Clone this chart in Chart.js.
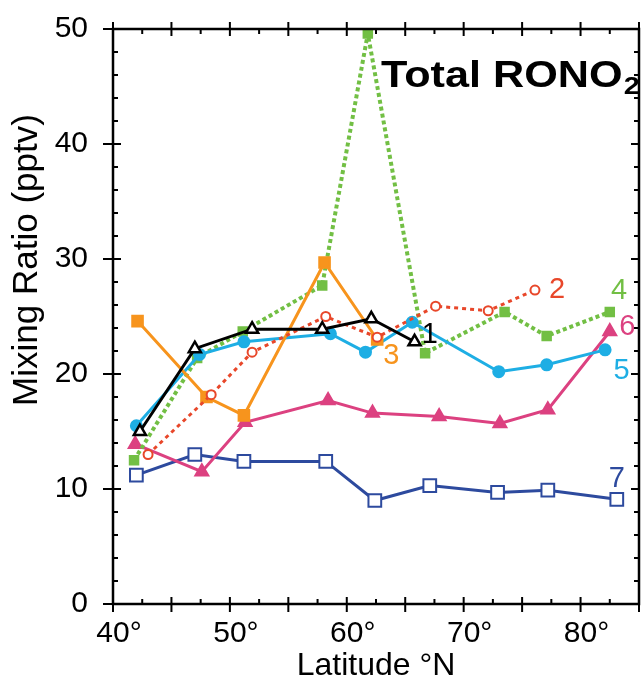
<!DOCTYPE html>
<html lang="en">
<head>
<meta charset="UTF-8">
<title>Total RONO2</title>
<script src="https://cdn.jsdelivr.net/npm/chart.js"></script>
<style>
  html, body { margin: 0; padding: 0; background: #fff; }
  canvas { display: block; }
</style>
</head>
<body>
<canvas id="chart" width="641" height="685"></canvas>
<script>
// latitude (deg N) and mixing ratio (pptv) per flight
const lat1 = [42.3, 47.0, 51.9, 57.9, 62.1, 65.8];
const val1 = [15.0, 22.2, 23.9, 23.9, 24.8, 22.8];
const lat2 = [43.0, 48.4, 51.9, 58.2, 62.6, 67.6, 72.1, 76.1];
const val2 = [13.0, 18.2, 21.9, 25.0, 23.2, 25.9, 25.5, 27.3];
const lat3 = [42.1, 48.0, 51.2, 58.1, 62.6];
const val3 = [24.6, 18.0, 16.4, 29.7, 23.0];
const lat4 = [41.8, 47.2, 51.1, 57.9, 61.8, 66.7, 73.5, 77.1, 82.5];
const val4 = [12.5, 21.4, 23.7, 27.7, 49.6, 21.8, 25.4, 23.3, 25.4];
const lat5 = [42.0, 47.4, 51.2, 58.6, 61.6, 65.6, 73.0, 77.1, 82.1];
const val5 = [15.5, 21.7, 22.8, 23.5, 21.9, 24.5, 20.2, 20.8, 22.1];
const lat6 = [41.9, 47.6, 51.3, 58.4, 62.2, 67.9, 73.1, 77.2, 82.5];
const val6 = [13.9, 11.5, 15.8, 17.7, 16.6, 16.3, 15.7, 16.9, 23.7];
const lat7 = [42.0, 47.0, 51.2, 58.2, 62.4, 67.1, 72.9, 77.2, 83.1];
const val7 = [11.2, 13.0, 12.4, 12.4, 9.0, 10.3, 9.7, 9.9, 9.1];

// flight number labels next to each line (data coords)
const flightNames = ['1', '2', '3', '4', '5', '6', '7'];
const flightLabelX = [67.1, 78.0, 63.8, 83.3, 83.5, 84.0, 83.1];
const flightLabelY = [23.4, 27.3, 21.6, 27.2, 20.3, 24.1, 10.9];

const xTicks = [40, 50, 60, 70, 80];

const FONT = '"Liberation Sans", Arial, sans-serif';
const colors = ['#000000', '#e8472a', '#f7941d', '#72bf44', '#1eaee4', '#dc4180', '#2d4a9e'];

function pts(xs, ys) {
  return xs.map((x, i) => ({ x: x, y: ys[i] }));
}

const frame = {
  id: 'frame',
  afterDraw(chart) {
    const ctx = chart.ctx, a = chart.chartArea;
    const xs = chart.scales.x, ys = chart.scales.y;
    ctx.save();
    ctx.strokeStyle = '#000';
    ctx.lineWidth = 2.5;
    ctx.strokeRect(a.left, a.top, a.right - a.left, a.bottom - a.top);

    // tick marks on all four sides
    ctx.lineWidth = 2;
    ctx.beginPath();
    for (let v = 40; v <= 85; v += 2.5) {
      const px = xs.getPixelForValue(v);
      if (v % 5 === 0) {
        ctx.moveTo(px, a.bottom - 7); ctx.lineTo(px, a.bottom + 8);
        ctx.moveTo(px, a.top - 7); ctx.lineTo(px, a.top + 7);
      } else {
        ctx.moveTo(px, a.bottom - 5); ctx.lineTo(px, a.bottom);
        ctx.moveTo(px, a.top); ctx.lineTo(px, a.top + 5);
      }
    }
    for (let v = 0; v <= 50; v += 2) {
      const py = ys.getPixelForValue(v);
      if (v % 10 === 0) {
        ctx.moveTo(a.left - 10, py); ctx.lineTo(a.left + 8, py);
        ctx.moveTo(a.right - 8, py); ctx.lineTo(a.right, py);
      } else {
        ctx.moveTo(a.left, py); ctx.lineTo(a.left + 5, py);
        ctx.moveTo(a.right - 5, py); ctx.lineTo(a.right, py);
      }
    }
    ctx.stroke();

    // y axis title
    ctx.fillStyle = '#000';
    ctx.font = '35px ' + FONT;
    ctx.textAlign = 'center';
    ctx.textBaseline = 'middle';
    ctx.translate(27, 260);
    ctx.rotate(-Math.PI / 2);
    ctx.fillText('Mixing Ratio (pptv)', 0, 0);
    ctx.restore();

    // panel title with subscript
    ctx.save();
    ctx.fillStyle = '#000';
    ctx.textAlign = 'left';
    ctx.textBaseline = 'alphabetic';
    ctx.font = 'bold 36px ' + FONT;
    ctx.translate(381, 87);
    ctx.scale(1.2, 1);
    ctx.fillText('Total RONO', 0, 0);
    const w = ctx.measureText('Total RONO').width;
    ctx.font = 'bold 24px ' + FONT;
    ctx.fillText('2', w + 1, 7);
    ctx.restore();

    // flight numbers
    ctx.save();
    ctx.font = '29px ' + FONT;
    ctx.textAlign = 'center';
    ctx.textBaseline = 'middle';
    flightNames.forEach((n, i) => {
      ctx.fillStyle = colors[i];
      ctx.fillText(n, xs.getPixelForValue(flightLabelX[i]), ys.getPixelForValue(flightLabelY[i]));
    });
    ctx.restore();
  }
};

const ds = (label, xs, ys, i, extra) => Object.assign({
  label: label,
  data: pts(xs, ys),
  showLine: true,
  borderColor: colors[i],
  backgroundColor: colors[i],
  pointBorderColor: colors[i],
  pointBackgroundColor: colors[i],
  borderWidth: 3,
  pointBorderWidth: 2,
  tension: 0
}, extra);

new Chart(document.getElementById('chart'), {
  type: 'scatter',
  data: {
    datasets: [
      ds('1', lat1, val1, 0, { pointStyle: 'triangle', pointRadius: 7, pointBackgroundColor: '#fff', pointBorderWidth: 2.5, order: 1 }),
      ds('2', lat2, val2, 1, { pointStyle: 'circle', pointRadius: 4.5, pointBackgroundColor: '#fff', borderDash: [4, 4], order: 2 }),
      ds('3', lat3, val3, 2, { pointStyle: 'rect', pointRadius: 7.5, order: 3 }),
      ds('4', lat4, val4, 3, { pointStyle: 'rect', pointRadius: 6, borderWidth: 4, borderDash: [4, 3], order: 5 }),
      ds('5', lat5, val5, 4, { pointStyle: 'circle', pointRadius: 5.5, order: 4 }),
      ds('6', lat6, val6, 5, { pointStyle: 'triangle', pointRadius: 7.5, order: 6 }),
      ds('7', lat7, val7, 6, { pointStyle: 'rect', pointRadius: 9, pointBackgroundColor: '#fff', order: 7 })
    ]
  },
  options: {
    responsive: false,
    animation: false,
    layout: { autoPadding: false, padding: { top: 29, right: 2, left: 0, bottom: 0 } },
    plugins: { legend: { display: false }, tooltip: { enabled: false } },
    scales: {
      x: {
        type: 'linear', min: 40, max: 85,
        grid: { display: false, drawTicks: false },
        border: { display: false },
        afterFit(s) { s.height = 81; s.paddingLeft = 0; s.paddingRight = 0; },
        afterBuildTicks(s) { s.ticks = xTicks.map(v => ({ value: v })); },
        ticks: {
          padding: 12, labelOffset: 6, color: '#000',
          font: { family: FONT, size: 30 },
          callback: v => v + '°'
        },
        title: {
          display: true, text: 'Latitude °N', color: '#000',
          font: { family: FONT, size: 32 },
          padding: { top: 0, bottom: 0 }
        }
      },
      y: {
        min: 0, max: 50,
        grid: { display: false, drawTicks: false },
        border: { display: false },
        afterFit(s) { s.width = 113; s.paddingTop = 0; s.paddingBottom = 0; },
        ticks: {
          stepSize: 10, padding: 25, color: '#000',
          font: { family: FONT, size: 30 }
        }
      }
    }
  },
  plugins: [frame]
});
</script>
</body>
</html>
